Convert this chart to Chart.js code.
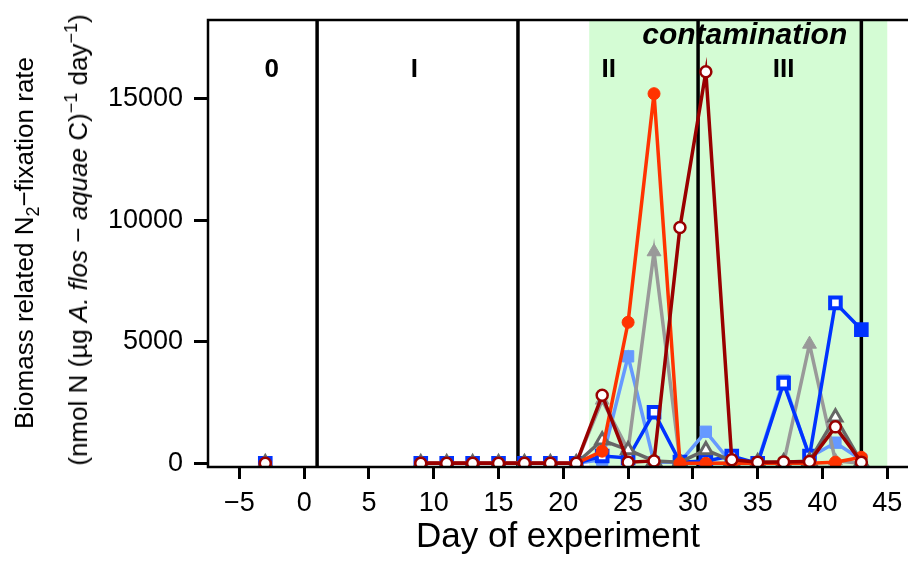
<!DOCTYPE html>
<html>
<head>
<meta charset="utf-8">
<script src="https://cdn.jsdelivr.net/npm/chart.js@4.4.1/dist/chart.umd.min.js"></script>
<style>
  html, body { margin: 0; padding: 0; background: #fff; }
  #wrap { position: relative; width: 908px; height: 561px; }
  .ytitle {
    position: absolute;
    transform: translate(-50%, -50%) rotate(-90deg);
    white-space: nowrap;
    font-family: 'Liberation Sans', Arial, sans-serif;
    font-size: 26px;
    line-height: 1;
    color: #000;
  }
  .ytitle sub, .ytitle sup { font-size: 18px; line-height: 0; }
</style>
</head>
<body>
<div id="wrap">
  <canvas id="rateChart" width="908" height="561"></canvas>
  <div class="ytitle" style="left:24px; top:243px;">Biomass related N<sub>2</sub>−fixation rate</div>
  <div class="ytitle" style="left:78px; top:240px;">(nmol N (µg <i>A. flos</i> − <i>aquae</i> C)<sup>−1</sup> day<sup>−1</sup>)</div>
</div>
<script>
// sampling days
const days = [-3, 9, 11, 13, 15, 17, 19, 21, 23, 25, 27, 29, 31, 33, 35, 37, 39, 41, 43];

// N2-fixation rate per series
const darkRedRate   = [0, 0, 0, 0, 0, 0, 0, 0, 2800, 50, 100, 9700, 16100, 150, 50, 60, 80, 1500, 50];
const redRate       = [0, 0, 0, 0, 0, 0, 0, 0, 500, 5800, 15200, 0, 0, 0, 0, 0, 0, 50, 250];
const darkGrayRate  = [0, 0, 0, 0, 0, 0, 0, 0, 950, 550, 100, 50, 550, 100, 50, 50, 100, 1900, 50];
const blueRate      = [0, 0, 0, 0, 0, 0, 0, 0, 300, 220, 2100, 50, 100, 300, 0, 3300, 300, 6600, 5500];
const grayRate      = [0, 0, 0, 0, 0, 0, 0, 0, 2600, 550, 8700, 100, 0, 0, 0, 0, 4900, 100, 0];
const lightBlueRate = [0, 0, 0, 0, 0, 0, 0, 0, 150, 4400, 50, 50, 1300, 0, 50, 3400, 250, 850, 150];

const xTicks = [-5, 0, 5, 10, 15, 20, 25, 30, 35, 40, 45];
const yTicks = [0, 5000, 10000, 15000];

// experiment phases
const phaseBreaks = [1, 16.5, 30.4, 43];
const phaseNames = ["0", "I", "II", "III"];
const phaseCenters = [-2.5, 8.5, 23.5, 37];
const contamination = [22, 45];

const FONT = "'Liberation Sans', Arial, sans-serif";
Chart.defaults.font.family = FONT;
Chart.defaults.color = "#000";

function toPoints(values) {
    const pts = [];
    days.forEach((d, i) => {
        // break the line where sampling was interrupted
        if (i > 0 && d - days[i - 1] > 2) pts.push({ x: (d + days[i - 1]) / 2, y: null });
        pts.push({ x: d, y: values[i] });
    });
    return pts;
}

function series(label, values, color, style, filled, radius, border) {
    return {
        label,
        data: toPoints(values),
        borderColor: color,
        backgroundColor: color,
        borderWidth: 3.5,
        pointStyle: style,
        pointRadius: radius,
        pointBackgroundColor: filled ? color : "#fff",
        pointBorderColor: color,
        pointBorderWidth: border,
        tension: 0
    };
}

const fmt = v => v < 0 ? "\u2212" + Math.abs(v) : String(v);

// keep the plot box exactly where the reference has it
const noPad = s => { s.paddingLeft = 0; s.paddingRight = 0; s.paddingTop = 0; s.paddingBottom = 0; };

const phasePlugin = {
    id: "phases",
    beforeDatasetsDraw(chart) {
        const { ctx, chartArea: a, scales: { x, y } } = chart;
        ctx.save();
        // contamination band
        const x0 = x.getPixelForValue(contamination[0]);
        const x1 = x.getPixelForValue(contamination[1]);
        ctx.fillStyle = "#d4fcd4";
        ctx.fillRect(x0, a.top, x1 - x0, a.bottom - a.top);

        // phase dividers
        ctx.strokeStyle = "#000";
        ctx.lineWidth = 3.5;
        phaseBreaks.forEach(d => {
            const px = x.getPixelForValue(d);
            ctx.beginPath();
            ctx.moveTo(px, a.top);
            ctx.lineTo(px, a.bottom);
            ctx.stroke();
        });

        // phase names
        ctx.fillStyle = "#000";
        ctx.textAlign = "center";
        ctx.textBaseline = "middle";
        ctx.font = "bold 26px " + FONT;
        phaseNames.forEach((n, i) => {
            ctx.fillText(n, x.getPixelForValue(phaseCenters[i]), y.getPixelForValue(16200));
        });
        ctx.font = "italic bold 30px " + FONT;
        ctx.fillText("contamination", x.getPixelForValue(34), y.getPixelForValue(17600));
        ctx.restore();
    },
    afterDatasetsDraw(chart) {
        const { ctx, chartArea: a } = chart;
        ctx.save();
        ctx.strokeStyle = "#000";
        ctx.lineWidth = 2.5;
        ctx.beginPath();
        ctx.moveTo(a.right, a.top);
        ctx.lineTo(a.left, a.top);
        ctx.lineTo(a.left, a.bottom);
        ctx.lineTo(a.right, a.bottom);
        ctx.stroke();
        ctx.restore();
    }
};

const blue = series("blue", blueRate, "#0033ff", "rect", false, 7.5, 4);
// last blue sample is drawn solid in the figure
blue.pointBackgroundColor = c => (c.raw && c.raw.x === days[days.length - 1]) ? "#0033ff" : "#fff";

new Chart(document.getElementById("rateChart"), {
    type: "line",
    data: {
        datasets: [
            series("dark red", darkRedRate, "#990000", "circle", false, 5.5, 2.5),
            series("red", redRate, "#ff3300", "circle", true, 6, 1),
            series("dark gray", darkGrayRate, "#666666", "triangle", false, 7.5, 3),
            blue,
            series("gray", grayRate, "#999999", "triangle", true, 8, 1),
            series("light blue", lightBlueRate, "#6699ff", "rect", true, 8, 1)
        ]
    },
    options: {
        responsive: false,
        animation: false,
        layout: { autoPadding: false, padding: { top: 20, left: 0, right: 0, bottom: 0 } },
        plugins: {
            legend: { display: false },
            tooltip: { enabled: false }
        },
        scales: {
            x: {
                type: "linear",
                min: -7.42,
                max: 46.6,
                afterBuildTicks: s => { s.ticks = xTicks.map(v => ({ value: v })); },
                afterFit: s => { s.height = 94; noPad(s); },
                border: { display: false },
                grid: { drawOnChartArea: false, tickLength: 12, tickWidth: 3, tickColor: "#000" },
                ticks: { font: { size: 27 }, padding: 8, maxRotation: 0, autoSkip: false, callback: v => fmt(v) },
                title: { display: true, text: "Day of experiment", font: { size: 35 }, padding: { top: 0, bottom: 3 } }
            },
            y: {
                type: "linear",
                min: -150,
                max: 18230,
                afterBuildTicks: s => { s.ticks = yTicks.map(v => ({ value: v })); },
                afterFit: s => { s.width = 208; noPad(s); },
                border: { display: false },
                grid: { drawOnChartArea: false, tickLength: 14, tickWidth: 3, tickColor: "#000" },
                ticks: { font: { size: 27 }, padding: 11, callback: v => fmt(v) }
            }
        }
    },
    plugins: [phasePlugin]
});
</script>
</body>
</html>
